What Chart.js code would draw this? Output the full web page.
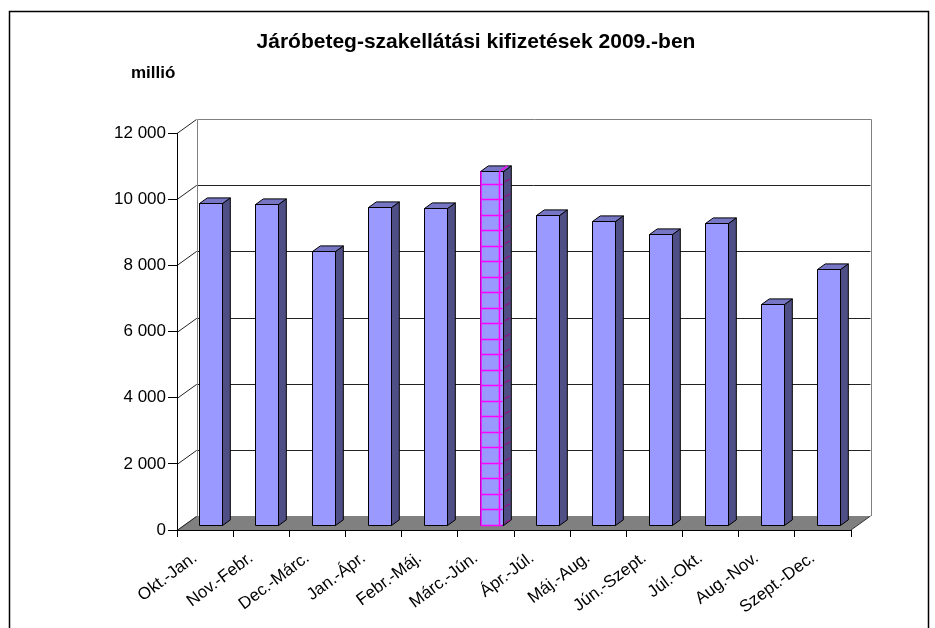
<!DOCTYPE html>
<html>
<head>
<meta charset="utf-8">
<script src="https://cdn.jsdelivr.net/npm/chart.js@4/dist/chart.umd.min.js"></script>
<style>
  html, body { margin: 0; padding: 0; background: #fff; }
  canvas { display: block; }
</style>
</head>
<body>
<canvas id="chart" width="935" height="628"></canvas>
<script>
const categories = ['Okt.-Jan.', 'Nov.-Febr.', 'Dec.-Márc.', 'Jan.-Ápr.', 'Febr.-Máj.', 'Márc.-Jún.',
  'Ápr.-Júl.', 'Máj.-Aug.', 'Jún.-Szept.', 'Júl.-Okt.', 'Aug.-Nov.', 'Szept.-Dec.'];
const payments = [9760, 9720, 8310, 9640, 9600, 10730, 9410, 9210, 8810, 9170, 6720, 7760];
const highlighted = ['Márc.-Jún.'];
const yTicks = [0, 2000, 4000, 6000, 8000, 10000, 12000];
const titleText = 'Járóbeteg-szakellátási kifizetések 2009.-ben';
const unitText = 'millió';

// depth of the 3D box (back wall offset) and where the bars sit inside it
const DEPTH_X = 19.5;
const DEPTH_Y = 14;
const BAR_FRONT = 0.29;
const BAR_DEPTH = 0.4;

const FONT = 'Arial, "Liberation Sans", sans-serif';
Chart.defaults.font.family = FONT;
Chart.defaults.color = '#000';

const fmt = v => String(v).replace(/\B(?=(\d{3})+(?!\d))/g, ' ');

const frame3d = {
  id: 'frame3d',
  beforeDraw(chart) {
    const { ctx, chartArea: a, scales: { y } } = chart;
    ctx.save();
    // outer border
    ctx.strokeStyle = '#000';
    ctx.lineWidth = 1.5;
    ctx.strokeRect(9.5, 11.5, 919, 700);

    // title and unit
    ctx.fillStyle = '#000';
    ctx.textBaseline = 'alphabetic';
    ctx.textAlign = 'center';
    ctx.font = 'bold 21px ' + FONT;
    ctx.fillText(titleText, 476, 48);
    ctx.textAlign = 'left';
    ctx.font = 'bold 17px ' + FONT;
    ctx.fillText(unitText, 131, 78);

    const bl = a.left + DEPTH_X, br = a.right + DEPTH_X;
    const bt = y.getPixelForValue(y.max) - DEPTH_Y;
    const bb = y.getPixelForValue(0) - DEPTH_Y;

    // floor
    ctx.fillStyle = '#808080';
    ctx.beginPath();
    ctx.moveTo(a.left, a.bottom);
    ctx.lineTo(bl, bb);
    ctx.lineTo(br, bb);
    ctx.lineTo(a.right, a.bottom);
    ctx.closePath();
    ctx.fill();
    ctx.strokeStyle = '#333';
    ctx.lineWidth = 1;
    ctx.beginPath();
    ctx.moveTo(a.right, a.bottom);
    ctx.lineTo(br, bb);
    ctx.stroke();

    // back wall gridlines and the side wall diagonals
    ctx.strokeStyle = '#222';
    yTicks.forEach(v => {
      const yf = Math.round(y.getPixelForValue(v)) + 0.5;
      const yb = yf - DEPTH_Y;
      ctx.beginPath();
      ctx.moveTo(a.left, yf);
      ctx.lineTo(bl, yb);
      if (v > 0 && v < y.max) ctx.lineTo(br, yb);
      ctx.stroke();
    });

    // back wall outline
    ctx.strokeStyle = '#808080';
    ctx.beginPath();
    ctx.moveTo(Math.round(bl) + 0.5, bb);
    ctx.lineTo(Math.round(bl) + 0.5, Math.round(bt) + 0.5);
    ctx.lineTo(Math.round(br) + 0.5, Math.round(bt) + 0.5);
    ctx.lineTo(Math.round(br) + 0.5, bb);
    ctx.stroke();
    ctx.restore();
  },
  afterDatasetsDraw(chart) {
    const { ctx } = chart;
    const meta = chart.getDatasetMeta(0);
    const fx = DEPTH_X * BAR_FRONT, fy = DEPTH_Y * BAR_FRONT;
    const sx = DEPTH_X * BAR_DEPTH, sy = DEPTH_Y * BAR_DEPTH;
    ctx.save();
    ctx.lineWidth = 1;
    ctx.strokeStyle = '#000';
    ctx.lineJoin = 'round';
    meta.data.forEach((bar, i) => {
      const { x, y, base, width } = bar.getProps(['x', 'y', 'base', 'width'], true);
      const l = Math.round(x - width / 2 + fx) + 0.5;
      const r = Math.round(x + width / 2 + fx) + 0.5;
      const t = Math.round(y - fy) + 0.5;
      const b = Math.round(base - fy) + 0.5;

      const poly = (pts, fill) => {
        ctx.beginPath();
        pts.forEach(([px, py], k) => k ? ctx.lineTo(px, py) : ctx.moveTo(px, py));
        ctx.closePath();
        ctx.fillStyle = fill;
        ctx.fill();
        ctx.stroke();
      };
      poly([[r, t], [r + sx, t - sy], [r + sx, b - sy], [r, b]], '#4F4F86');
      poly([[l, t], [l + sx, t - sy], [r + sx, t - sy], [r, t]], '#7676C4');
      poly([[l, t], [r, t], [r, b], [l, b]], '#9999FF');

      if (highlighted.includes(categories[i])) {
        const step = 15.5;
        const vx = l + 19;
        ctx.strokeStyle = '#FF00FF';
        ctx.lineWidth = 1.5;
        ctx.beginPath();
        ctx.moveTo(l + 0.5, t); ctx.lineTo(l + 0.5, b);
        ctx.moveTo(vx, t); ctx.lineTo(vx, b);
        for (let yy = b; yy > t; yy -= step) {
          ctx.moveTo(l, Math.round(yy) - 0.5);
          ctx.lineTo(r - 1, Math.round(yy) - 0.5);
        }
        ctx.moveTo(vx, t); ctx.lineTo(vx + sx, t - sy);
        ctx.stroke();
        ctx.strokeStyle = '#8A1A8A';
        ctx.beginPath();
        for (let yy = b; yy > t; yy -= step) {
          ctx.moveTo(r + 1, Math.round(yy) - 0.5 - sy / 2);
          ctx.lineTo(r + sx - 1, Math.round(yy) - 0.5 - sy);
        }
        ctx.stroke();
        ctx.strokeStyle = '#000';
        ctx.lineWidth = 1;
      }
    });
    ctx.restore();
  }
};

new Chart(document.getElementById('chart'), {
  type: 'bar',
  data: {
    labels: categories,
    datasets: [{
      data: payments,
      backgroundColor: 'rgba(0,0,0,0)',
      borderWidth: 0,
      categoryPercentage: 1,
      barPercentage: 0.41,
    }],
  },
  options: {
    responsive: false,
    animation: false,
    events: [],
    layout: { padding: { top: 133, right: 84, bottom: 0, left: 0 } },
    plugins: {
      legend: { display: false },
      title: { display: false },
      tooltip: { enabled: false },
    },
    scales: {
      x: {
        grid: { drawOnChartArea: false, drawTicks: true, tickLength: 7, color: '#000', offset: true },
        border: { display: true, color: '#000', width: 1 },
        ticks: { minRotation: 37, maxRotation: 37, autoSkip: false, padding: 11, labelOffset: -10, font: { size: 17 }, color: '#000' },
        afterFit: s => { s.height = 98; s.paddingLeft = 0; s.paddingRight = 0; },
      },
      y: {
        min: 0,
        max: 12000,
        afterBuildTicks: s => { s.ticks = yTicks.map(v => ({ value: v })); },
        grid: { drawOnChartArea: false, drawTicks: true, tickLength: 9, color: '#000' },
        border: { display: true, color: '#000', width: 1 },
        ticks: { padding: 2, font: { size: 17 }, color: '#000', callback: v => fmt(v) },
        afterFit: s => { s.width = 177; },
      },
    },
  },
  plugins: [frame3d],
});
</script>
</body>
</html>
